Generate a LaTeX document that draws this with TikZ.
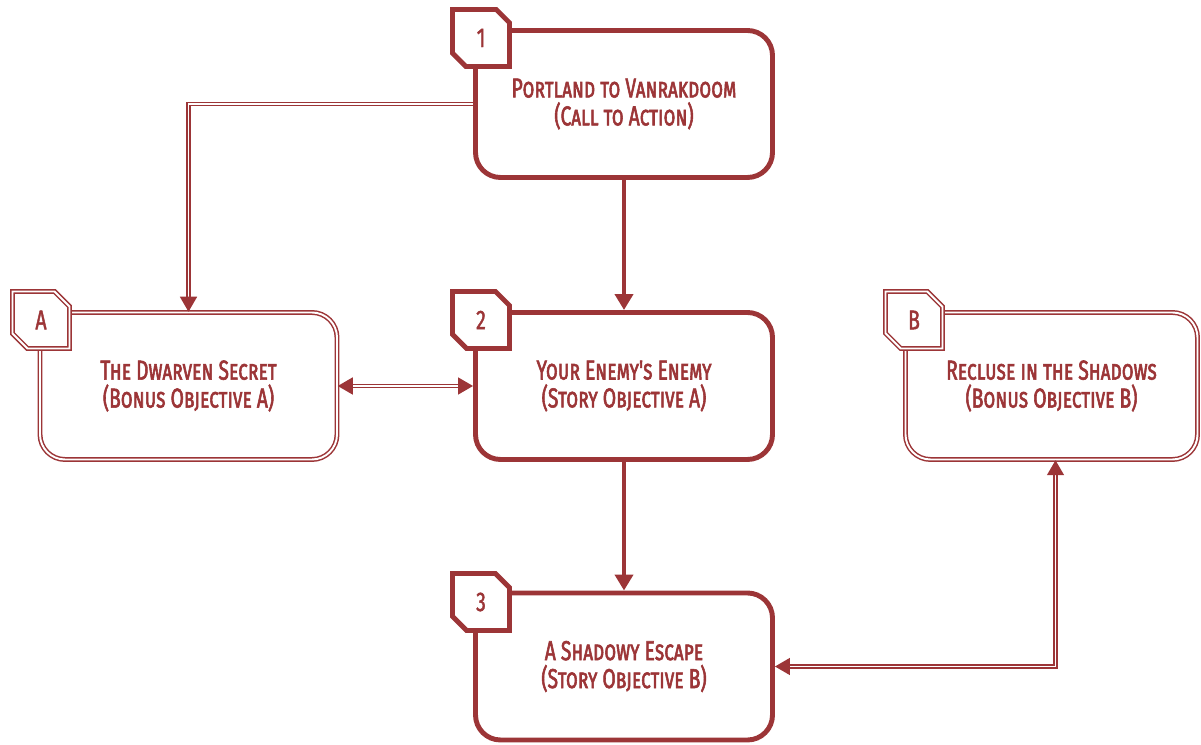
\documentclass[tikz,border=0pt]{standalone}
\usepackage{fontspec}
\usepackage{tikz}
\usetikzlibrary{arrows.meta, shapes.misc}
\definecolor{brick}{RGB}{156,53,55}
\newfontfamily\questfont{Fira Sans}[Letters=SmallCaps, FakeStretch=0.7, FakeBold=2]
\newfontfamily\tagfont{Fira Sans}[FakeStretch=0.72, FakeBold=1.5]
\tikzset{
  quest/.style={draw=brick, fill=white, line width=2.8pt, rounded corners=0.5cm,
    minimum width=5.94cm, minimum height=2.94cm, align=center, text=brick,
    font=\questfont\fontsize{15.6}{15.9}\selectfont},
  bonus/.style={quest, line width=0.85pt, double=white, double distance=1.1pt},
  tagbox/.style={chamfered rectangle, chamfered rectangle corners={north east, south west},
    chamfered rectangle xsep=0.22cm, chamfered rectangle ysep=0.22cm,
    draw=brick, fill=white, line width=2.8pt, minimum width=1.14cm, minimum height=1.14cm,
    inner sep=0pt, text=brick, font=\tagfont\fontsize{15.4}{15.9}\selectfont},
  bonustag/.style={tagbox, line width=0.85pt, double=white, double distance=1.1pt},
  mainlink/.style={draw=brick, line width=2.8pt, -{Triangle[width=0.36cm,length=0.32cm]}},
  bonuslink/.style={draw=brick, line width=0.85pt, double=white, double distance=1.1pt}
}
\begin{document}
\begin{tikzpicture}
  \useasboundingbox (0,0) rectangle (24.02,14.9);
  % quest boxes
  \node[quest] (b1) at (12.48,12.82) {Portland to Vanrakdoom\\(Call to Action)};
  \node[quest] (b2) at (12.48,7.18) {Your Enemy's Enemy\\(Story Objective A)};
  \node[quest] (b3) at (12.48,1.57) {A Shadowy Escape\\(Story Objective B)};
  \node[bonus] (bA) at (3.77,7.18) {The Dwarven Secret\\(Bonus Objective A)};
  \node[bonus, minimum width=5.84cm] (bB) at (21.03,7.18) {Recluse in the Shadows\\(Bonus Objective B)};
  % tags
  \node[tagbox] (t1) at (9.62,14.14) {1};
  \node[tagbox] (t2) at (9.62,8.5) {2};
  \node[tagbox] (t3) at (9.62,2.86) {3};
  \node[bonustag] (tA) at (0.82,8.5) {A};
  \node[bonustag] (tB) at (18.28,8.5) {B};
  % links
  \draw[mainlink] (b1.south) -- (b2.north);
  \draw[mainlink] (b2.south) -- (b3.north);
  \draw[bonuslink, -{Triangle[width=0.34cm,length=0.3cm]}] (b1.west) -| (bA.north);
  \draw[bonuslink, {Triangle[width=0.34cm,length=0.3cm]}-{Triangle[width=0.34cm,length=0.3cm]}] (bA.east) -- (b2.west);
  \draw[bonuslink, {Triangle[width=0.34cm,length=0.3cm]}-{Triangle[width=0.34cm,length=0.3cm]}] (b3.east) -| ([xshift=0.08cm]bB.south);
\end{tikzpicture}
\end{document}
